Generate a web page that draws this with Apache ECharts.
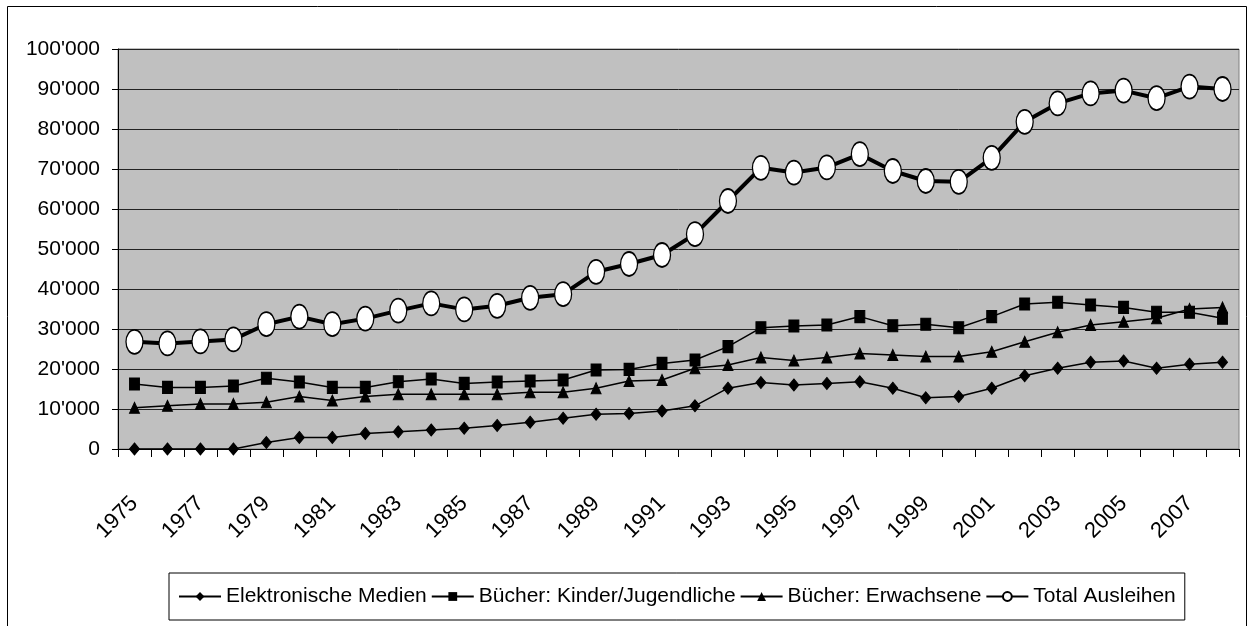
<!DOCTYPE html>
<html>
<head>
<meta charset="utf-8">
<script src="https://cdn.jsdelivr.net/npm/echarts@6/dist/echarts.min.js"></script>
<style>
html,body{margin:0;padding:0;background:#fff;overflow:hidden;}
#chart{width:1252px;height:626px;}
</style>
</head>
<body>
<div id="chart"></div>
<script>
const years = ['1975','1976','1977','1978','1979','1980','1981','1982','1983','1984','1985','1986','1987','1988','1989','1990','1991','1992','1993','1994','1995','1996','1997','1998','1999','2000','2001','2002','2003','2004','2005','2006','2007','2008'];
const elektronischeMedien = [0,0,0,0,1600,2900,2900,3900,4300,4750,5200,5900,6700,7700,8700,8900,9500,10800,15200,16600,16000,16400,16800,15200,12800,13100,15200,18300,20200,21700,22000,20200,21200,21700];
const buecherKinder = [16250,15400,15400,15750,17700,16750,15400,15400,16800,17500,16400,16750,17000,17250,19750,19900,21400,22250,25600,30300,30750,31000,33100,30800,31200,30300,33100,36250,36700,36000,35400,34200,34200,32700];
const buecherErwachsene = [10300,10800,11250,11250,11700,13100,12100,13100,13700,13700,13700,13700,14200,14200,15200,17000,17250,20200,21000,22900,22100,22900,23900,23500,23100,23100,24300,26800,29200,31000,31800,32700,35000,35400];
const totalAusleihen = [26800,26400,26900,27400,31200,33100,31200,32600,34600,36400,34900,35800,37800,38700,44300,46250,48500,53700,62000,70300,69100,70400,73700,69500,67000,66800,72800,81800,86400,88900,89600,87700,90600,90000];
const seriesNames = ['Elektronische Medien','Bücher: Kinder/Jugendliche','Bücher: Erwachsene','Total Ausleihen'];

const FONT = "'Liberation Sans', Arial, sans-serif";
function fmt(v){ return String(v).replace(/\B(?=(\d{3})+(?!\d))/g, "'"); }

const chart = echarts.init(document.getElementById('chart'));
chart.setOption({
  animation: false,
  backgroundColor: '#fff',
  textStyle: { fontFamily: FONT, color: '#000' },
  graphic: [{
    type: 'rect', silent: true, z: -10,
    shape: { x: 7.5, y: 6.5, width: 1239, height: 700 },
    style: { fill: 'none', stroke: '#000', lineWidth: 1 }
  }],
  grid: {
    left: 118, right: 13, top: 49, bottom: 177,
    show: true, backgroundColor: '#C0C0C0', borderColor: '#808080', borderWidth: 1
  },
  legend: {
    left: 169, top: 573,
    padding: [13, 9],
    borderColor: '#000', borderWidth: 1,
    itemWidth: 42, itemHeight: 11, itemGap: 4,
    textStyle: { fontFamily: FONT, fontSize: 21, color: '#000' },
    data: seriesNames
  },
  xAxis: {
    type: 'category', data: years, boundaryGap: true,
    axisLine: { lineStyle: { color: '#000', width: 1 } },
    axisTick: { show: true, interval: 0, length: 8, lineStyle: { color: '#000' } },
    axisLabel: { interval: 1, rotate: 45, margin: 51, fontSize: 22, fontFamily: FONT, color: '#000' },
    splitLine: { show: false }
  },
  yAxis: {
    type: 'value', min: 0, max: 100000, interval: 10000,
    axisLine: { show: true, lineStyle: { color: '#000', width: 1 } },
    axisTick: { show: true, length: 6, lineStyle: { color: '#000' } },
    axisLabel: { margin: 18, fontSize: 21, fontFamily: FONT, color: '#000', formatter: fmt },
    splitLine: { show: true, lineStyle: { color: '#222', width: 1 } }
  },
  series: [
    { name: seriesNames[0], type: 'line', data: elektronischeMedien, symbol: 'diamond', symbolSize: [10, 12], showAllSymbol: true,
      lineStyle: { color: '#000', width: 1.5 }, itemStyle: { color: '#000', borderColor: '#000' }, z: 2 },
    { name: seriesNames[1], type: 'line', data: buecherKinder, symbol: 'rect', symbolSize: [10, 12], showAllSymbol: true,
      lineStyle: { color: '#000', width: 1.5 }, itemStyle: { color: '#000', borderColor: '#000' }, z: 3 },
    { name: seriesNames[2], type: 'line', data: buecherErwachsene, symbol: 'triangle', symbolSize: [10, 11], showAllSymbol: true,
      lineStyle: { color: '#000', width: 1.5 }, itemStyle: { color: '#000', borderColor: '#000' }, z: 4 },
    { name: seriesNames[3], type: 'line', data: totalAusleihen, symbol: 'circle', symbolSize: [17, 24], showAllSymbol: true,
      lineStyle: { color: '#000', width: 4 }, itemStyle: { color: '#fff', borderColor: '#000', borderWidth: 1.5 }, z: 5 }
  ]
});
</script>
</body>
</html>
